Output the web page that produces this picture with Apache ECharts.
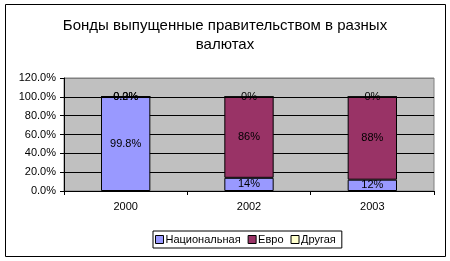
<!DOCTYPE html>
<html><head><meta charset="utf-8">
<script src="https://cdn.jsdelivr.net/npm/echarts@6/dist/echarts.min.js"></script>
<style>html,body{margin:0;padding:0;background:#fff}#c{width:450px;height:261px}</style>
</head><body><div id="c"></div>
<script>
const categories = ['2000', '2002', '2003'];
const seriesNames = ['Национальная', 'Евро', 'Другая'];
const national = [99.8, 14, 12];
const euro = [0.2, 86, 88];
const other = [0.0, 0, 0];
const labelDecimals = [1, 0, 0];
const yTicks = { min: 0, max: 120, interval: 20 };
const colors = ['#9999FF', '#993366', '#FFFFCC'];
const FONT = "'Liberation Sans', Arial, sans-serif";

const chart = echarts.init(document.getElementById('c'), null, { renderer: 'canvas' });
function mk(name, data, color) {
  return {
    name, type: 'bar', stack: 'all', data, barWidth: '40%',
    itemStyle: { color, borderColor: '#000', borderWidth: 1 },
    label: {
      show: true, position: 'inside', color: '#000', fontSize: 11, fontFamily: FONT,
      formatter: p => p.value.toFixed(labelDecimals[p.dataIndex]) + '%'
    },
    emphasis: { disabled: true }
  };
}
chart.setOption({
  animation: false,
  backgroundColor: '#fff',
  textStyle: { fontFamily: FONT },
  title: {
    text: 'Бонды выпущенные правительством в разных\nвалютах',
    left: 'center', top: 11,
    textStyle: { fontSize: 15, fontWeight: 'normal', color: '#000', fontFamily: FONT, lineHeight: 19 }
  },
  graphic: [{ type: 'rect', shape: { x: 5.5, y: 4.5, width: 440, height: 252 }, style: { fill: 'none', stroke: '#000', lineWidth: 1 }, z: 100 }],
  legend: {
    left: 153, top: 231, itemWidth: 8, itemHeight: 8, itemGap: 7,
    padding: [3, 6, 3, 2], borderColor: '#000', borderWidth: 1,
    textStyle: { fontSize: 11, color: '#000', fontFamily: FONT, padding: [0, 0, 0, -3] },
    itemStyle: { borderColor: '#000', borderWidth: 1 },
    data: seriesNames.map(n => ({ name: n, icon: 'rect' }))
  },
  grid: { left: 64, right: 16, top: 78, bottom: 70, show: true, backgroundColor: '#C0C0C0', borderColor: '#808080', borderWidth: 1 },
  xAxis: {
    type: 'category', data: categories,
    axisLine: { lineStyle: { color: '#000' } },
    axisTick: { show: true, length: 4, lineStyle: { color: '#000' } },
    axisLabel: { color: '#000', fontSize: 11, margin: 10, fontFamily: FONT }
  },
  yAxis: {
    type: 'value', min: yTicks.min, max: yTicks.max, interval: yTicks.interval,
    axisLine: { show: true, lineStyle: { color: '#000' } },
    axisTick: { show: true, length: 4, lineStyle: { color: '#000' } },
    axisLabel: { color: '#000', fontSize: 11, margin: 8, fontFamily: FONT, formatter: v => v.toFixed(1) + '%' },
    splitLine: { show: true, lineStyle: { color: ['#000', '#000', '#000', '#000', '#000', '#000', '#808080'] } }
  },
  series: [mk(seriesNames[0], national, colors[0]), mk(seriesNames[1], euro, colors[1]), mk(seriesNames[2], other, colors[2])]
});
</script></body></html>
